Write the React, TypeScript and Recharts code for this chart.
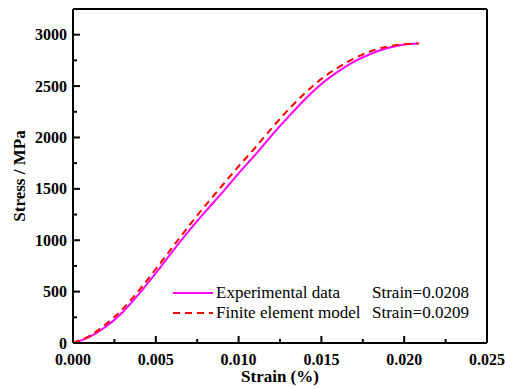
import React from "react";
import {
  LineChart,
  Line,
  XAxis,
  YAxis,
  ReferenceLine,
} from "recharts";

// strain (%) sampled for both curves
const EXP_STRAIN = [0, 0.001, 0.002, 0.003, 0.004, 0.005, 0.006, 0.007, 0.008, 0.009, 0.01, 0.011, 0.012, 0.013, 0.014, 0.015, 0.016, 0.017, 0.018, 0.019, 0.02, 0.0208];
const EXP_STRESS = [0, 60, 160, 300, 480, 680, 890, 1090, 1280, 1460, 1650, 1830, 2020, 2200, 2370, 2520, 2640, 2740, 2815, 2870, 2905, 2915];

const FEM_STRAIN = [0, 0.001, 0.002, 0.003, 0.004, 0.005, 0.006, 0.007, 0.008, 0.009, 0.01, 0.011, 0.012, 0.013, 0.014, 0.015, 0.016, 0.017, 0.018, 0.019, 0.02, 0.0209];
const FEM_STRESS = [0, 70, 185, 330, 515, 720, 930, 1140, 1340, 1530, 1720, 1900, 2090, 2270, 2430, 2570, 2680, 2770, 2840, 2885, 2908, 2915];

const X_TICKS = [0, 0.0025, 0.005, 0.0075, 0.01, 0.0125, 0.015, 0.0175, 0.02, 0.0225, 0.025];
const X_LABELS = ["0.000", "0.005", "0.010", "0.015", "0.020", "0.025"];
const Y_TICKS = [0, 250, 500, 750, 1000, 1250, 1500, 1750, 2000, 2250, 2500, 2750, 3000];

const SERIES_NAMES = ["Experimental data", "Finite element model"];
const SERIES_NOTES = ["Strain=0.0208", "Strain=0.0209"];

const expData = EXP_STRAIN.map((strain, i) => ({ strain, stress: EXP_STRESS[i] }));
const femData = FEM_STRAIN.map((strain, i) => ({ strain, stress: FEM_STRESS[i] }));

const FONT = "'Liberation Serif', 'Times New Roman', 'DejaVu Serif', serif";

function XTick(props: any) {
  const { x, payload } = props;
  const v = payload.value;
  const major = Math.abs(v / 0.005 - Math.round(v / 0.005)) < 1e-6;
  const label = X_LABELS[Math.round(v / 0.005)];
  const y0 = 343;
  return (
    <g>
      <line x1={x} x2={x} y1={y0} y2={y0 - (major ? 7 : 4)} stroke="#000" strokeWidth={2} />
      {major && (
        <text x={x} y={365} textAnchor="middle" style={{ fontFamily: FONT, fontWeight: "bold", fontSize: 16 }} fill="#000">
          {label}
        </text>
      )}
    </g>
  );
}

function YTick(props: any) {
  const { y, payload } = props;
  const v = payload.value;
  const major = v % 500 === 0;
  const x0 = 73;
  return (
    <g>
      <line x1={x0} x2={x0 + (major ? 7 : 4)} y1={y} y2={y} stroke="#000" strokeWidth={2} />
      {major && (
        <text x={x0 - 6} y={y + 5.5} textAnchor="end" style={{ fontFamily: FONT, fontWeight: "bold", fontSize: 16 }} fill="#000">
          {v}
        </text>
      )}
    </g>
  );
}

function XTitle(props: any) {
  const { viewBox } = props;
  return (
    <text x={viewBox.x + viewBox.width / 2} y={382} textAnchor="middle" style={{ fontFamily: FONT, fontWeight: "bold", fontSize: 17 }} fill="#000">
      Strain (%)
    </text>
  );
}

function YTitle(props: any) {
  const { viewBox } = props;
  const cy = viewBox.y + viewBox.height / 2;
  return (
    <text x={25} y={cy} transform={`rotate(-90, 25, ${cy})`} textAnchor="middle" style={{ fontFamily: FONT, fontWeight: "bold", fontSize: 17 }} fill="#000">
      Stress / MPa
    </text>
  );
}

function LegendBox() {
  const row = (i: number) => (
    <div key={i} style={{ display: "flex", alignItems: "center", height: 20 }}>
      <svg width={42} height={10} style={{ marginRight: 2 }}>
        <line
          x1={1}
          x2={41}
          y1={5}
          y2={5}
          stroke={i === 0 ? "#FF00FF" : "#FF0000"}
          strokeWidth={2}
          strokeDasharray={i === 0 ? undefined : "7 5"}
        />
      </svg>
      <span style={{ width: 156 }}>{SERIES_NAMES[i]}</span>
      <span>{SERIES_NOTES[i]}</span>
    </div>
  );
  return (
    <div
      style={{
        position: "absolute",
        left: 172,
        top: 283,
        fontFamily: FONT,
        fontSize: 17,
        color: "#000",
        lineHeight: "20px",
      }}
    >
      {row(0)}
      {row(1)}
    </div>
  );
}

export default function App() {
  return (
    <div style={{ position: "absolute", left: 0, top: 0, width: 505, height: 389, background: "#fff" }}>
      <LineChart width={505} height={389} margin={{ top: 9, right: 18, bottom: 0, left: 0 }}>
        <XAxis
          dataKey="strain"
          type="number"
          domain={[0, 0.025]}
          ticks={X_TICKS}
          interval={0}
          tick={<XTick />}
          tickLine={false}
          axisLine={{ stroke: "#000", strokeWidth: 2 }}
          height={46}
          label={<XTitle />}
        />
        <YAxis
          type="number"
          domain={[0, 3250]}
          ticks={Y_TICKS}
          interval={0}
          tick={<YTick />}
          tickLine={false}
          axisLine={{ stroke: "#000", strokeWidth: 2 }}
          width={73}
          label={<YTitle />}
        />
        <ReferenceLine y={3250} stroke="#000" strokeWidth={2} />
        <ReferenceLine x={0.025} stroke="#000" strokeWidth={2} />
        <Line
          data={expData}
          dataKey="stress"
          type="monotone"
          stroke="#FF00FF"
          strokeWidth={2}
          dot={false}
          isAnimationActive={false}
        />
        <Line
          data={femData}
          dataKey="stress"
          type="monotone"
          stroke="#FF0000"
          strokeWidth={2}
          strokeDasharray="7 5"
          dot={false}
          isAnimationActive={false}
        />
      </LineChart>
      <LegendBox />
    </div>
  );
}
